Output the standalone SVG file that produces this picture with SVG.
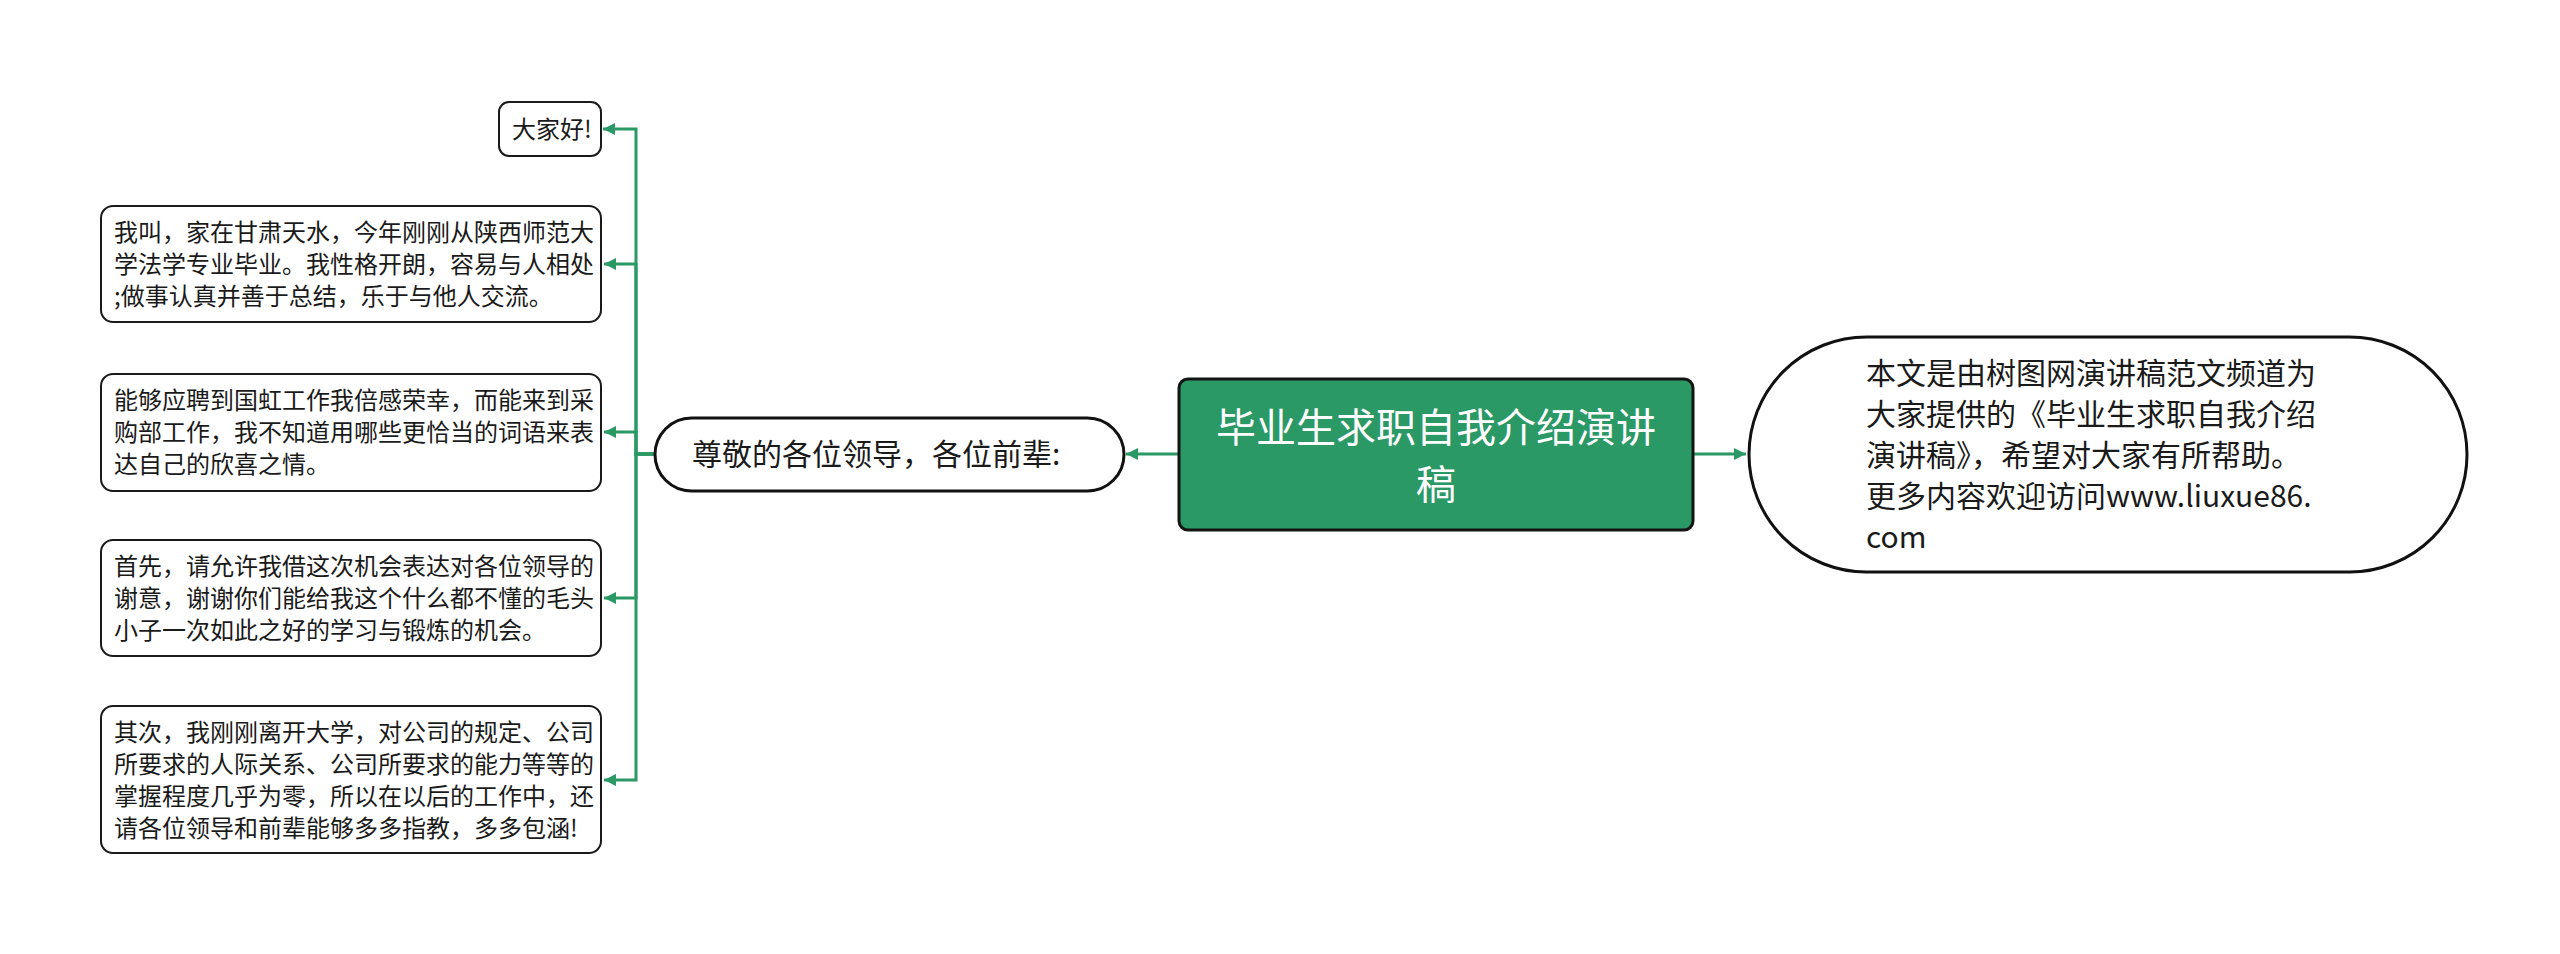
<svg xmlns="http://www.w3.org/2000/svg" width="2560" height="954" viewBox="0 0 2560 954">
<style>
text{font-family:"Noto Sans CJK SC","Noto Sans",sans-serif;fill:#1a1a1a}
.box{fill:#fff;stroke:#1a1a1a;stroke-width:2}
.pill{fill:#fff;stroke:#111;stroke-width:3}
.t24{font-size:24px}
.t30{font-size:30px}
.root{fill:#2a9966;stroke:#141414;stroke-width:3}
.rt{font-size:40px;fill:#fff}
.con{fill:none;stroke:#2a9966;stroke-width:3}
</style>
<defs>
<marker id="arr" markerUnits="userSpaceOnUse" markerWidth="14" markerHeight="14" refX="12" refY="6" orient="auto">
<path d="M0,0 L12,6 L0,12 z" fill="#2a9966"/>
</marker>
</defs>
<rect width="2560" height="954" fill="#fff"/>
<g id="connectors">
<path class="con" d="M1178 454 H1126" marker-end="url(#arr)"/>
<path class="con" d="M1693 454 H1746" marker-end="url(#arr)"/>
<path class="con" d="M654 454 H636 V129 H603" marker-end="url(#arr)"/>
<path class="con" d="M654 454 H636 V264 H604" marker-end="url(#arr)"/>
<path class="con" d="M654 454 H636 V432 H604" marker-end="url(#arr)"/>
<path class="con" d="M654 454 H636 V598 H604" marker-end="url(#arr)"/>
<path class="con" d="M654 454 H636 V780 H604" marker-end="url(#arr)"/>
</g>
<g id="root">
<rect class="root" x="1179" y="379" width="514" height="151" rx="9"/>
<text class="rt" x="1436" y="442" text-anchor="middle">毕业生求职自我介绍演讲</text>
<text class="rt" x="1436" y="499" text-anchor="middle">稿</text>
</g>
<g id="left">
<rect class="pill" x="655" y="418" width="469" height="73" rx="36.5"/>
<text class="t30" x="692" y="465">尊敬的各位领导，各位前辈:</text>
</g>
<g id="right">
<rect class="pill" x="1749" y="337" width="718" height="235" rx="117.5"/>
<text class="t30" x="1866" y="384">本文是由树图网演讲稿范文频道为</text>
<text class="t30" x="1866" y="425">大家提供的《毕业生求职自我介绍</text>
<text class="t30" x="1866" y="466">演讲稿》，希望对大家有所帮助。</text>
<text class="t30" x="1866" y="507">更多内容欢迎访问www.liuxue86.</text>
<text class="t30" x="1866" y="548">com</text>
</g>
<g id="c1">
<rect class="box" x="499" y="102" width="102" height="54" rx="10"/>
<text class="t24" x="512" y="138">大家好!</text>
</g>
<g id="c2">
<rect class="box" x="101" y="206" width="500" height="116" rx="12"/>
<text class="t24" x="114" y="241">我叫，家在甘肃天水，今年刚刚从陕西师范大</text>
<text class="t24" x="114" y="273">学法学专业毕业。我性格开朗，容易与人相处</text>
<text class="t24" x="114" y="305">;做事认真并善于总结，乐于与他人交流。</text>
</g>
<g id="c3">
<rect class="box" x="101" y="374" width="500" height="117" rx="12"/>
<text class="t24" x="114" y="409">能够应聘到国虹工作我倍感荣幸，而能来到采</text>
<text class="t24" x="114" y="441">购部工作，我不知道用哪些更恰当的词语来表</text>
<text class="t24" x="114" y="473">达自己的欣喜之情。</text>
</g>
<g id="c4">
<rect class="box" x="101" y="540" width="500" height="116" rx="12"/>
<text class="t24" x="114" y="575">首先，请允许我借这次机会表达对各位领导的</text>
<text class="t24" x="114" y="607">谢意，谢谢你们能给我这个什么都不懂的毛头</text>
<text class="t24" x="114" y="639">小子一次如此之好的学习与锻炼的机会。</text>
</g>
<g id="c5">
<rect class="box" x="101" y="706" width="500" height="147" rx="12"/>
<text class="t24" x="114" y="741">其次，我刚刚离开大学，对公司的规定、公司</text>
<text class="t24" x="114" y="773">所要求的人际关系、公司所要求的能力等等的</text>
<text class="t24" x="114" y="805">掌握程度几乎为零，所以在以后的工作中，还</text>
<text class="t24" x="114" y="837">请各位领导和前辈能够多多指教，多多包涵!</text>
</g>
</svg>
